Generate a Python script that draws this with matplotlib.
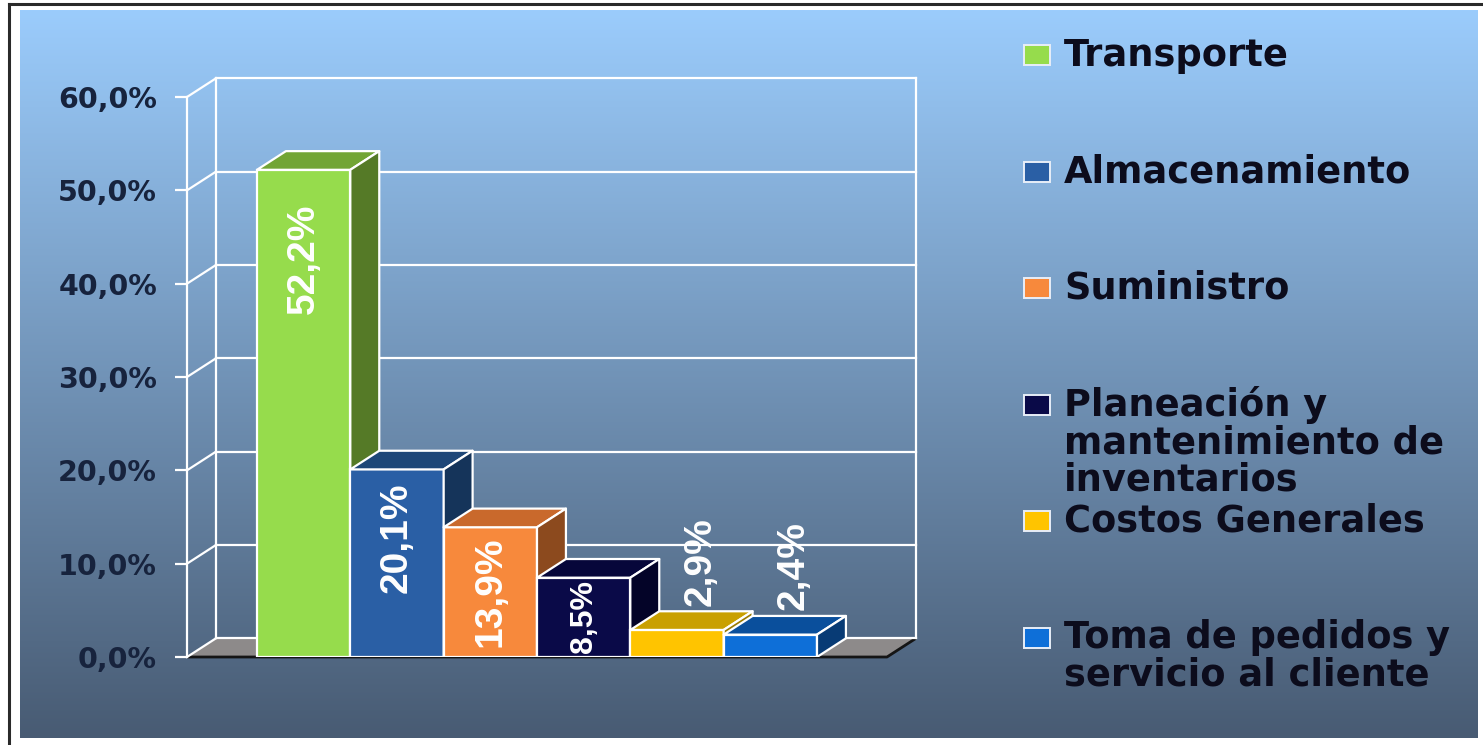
import numpy as np
import matplotlib
matplotlib.use('Agg')
import matplotlib.pyplot as plt
from matplotlib.patches import Polygon, Rectangle

# data
categories = ['Transporte', 'Almacenamiento', 'Suministro',
              'Planeación y\nmantenimiento de\ninventarios',
              'Costos Generales', 'Toma de pedidos y\nservicio al cliente']
values = [52.2, 20.1, 13.9, 8.5, 2.9, 2.4]
value_labels = ['52,2%', '20,1%', '13,9%', '8,5%', '2,9%', '2,4%']
yticks = [0, 10, 20, 30, 40, 50, 60]
ytick_labels = ['0,0%', '10,0%', '20,0%', '30,0%', '40,0%', '50,0%', '60,0%']

front_colors = ['#96dc4c', '#2a5fa5', '#f7893c', '#0a0a48', '#ffc400', '#0e6fd8']
top_colors = ['#72a535', '#1e4778', '#c9692c', '#07073a', '#c9a000', '#0a4f9c']
side_colors = ['#557a27', '#15345a', '#8c4a1e', '#040428', '#9a7a00', '#083b75']

W, H = 1483, 745
DX, DY = 0.31, 2.0      # depth offset of the 3d look, in data units
GAP = 0.75              # empty space left/right of the bars
XMAX = GAP * 2 + len(values)

fig = plt.figure(figsize=(W / 100, H / 100), dpi=100)
fig.patch.set_facecolor('white')


def fx(px):
    return px / W


def fy(py):
    return 1 - py / H


# background panel with vertical gradient
bg = fig.add_axes([0, 0, 1, 1])
top_c = np.array([155, 204, 252]) / 255
bot_c = np.array([72, 91, 115]) / 255
t = np.linspace(0, 1, 256)[:, None]
img = top_c * (1 - t) + bot_c * t
bg.imshow(img[:, None, :], extent=(20, 1478, 738, 10), aspect='auto')
bg.plot([9, W], [4, 4], color='#2a2a2a', lw=2.2)
bg.plot([9, 9], [4, H], color='#2a2a2a', lw=2.2)
bg.set_xlim(0, W)
bg.set_ylim(H, 0)
bg.axis('off')

ax = fig.add_axes([fx(187), fy(657), 700 / W, 560 / H])
ax.set_xlim(0, XMAX)
ax.set_ylim(0, 60)
ax.patch.set_alpha(0)
for s in ['top', 'right', 'bottom']:
    ax.spines[s].set_visible(False)
ax.spines['left'].set_color('white')
ax.spines['left'].set_linewidth(1.6)

# floor
floor = Polygon([(0, 0), (XMAX, 0), (XMAX + DX, DY), (DX, DY)], closed=True,
                facecolor='#8d8a8a', edgecolor='none', zorder=1, clip_on=False)
ax.add_patch(floor)
ax.plot([0, XMAX, XMAX + DX], [0, 0, DY], color='#151515', lw=2, zorder=1.2,
        clip_on=False, solid_capstyle='butt')

# back wall and left wall lines
wl = dict(color='white', lw=1.6, zorder=1.5, clip_on=False)
for v in yticks:
    ax.plot([DX, XMAX + DX], [v + DY, v + DY], **wl)
    ax.plot([0, DX], [v, v + DY], **wl)
ax.plot([DX, DX], [DY, 60 + DY], **wl)
ax.plot([XMAX + DX, XMAX + DX], [DY, 60 + DY], **wl)

# bars: front faces from ax.bar, top and side faces as polygons
lefts = [GAP + i for i in range(len(values))]
bars = ax.bar(lefts, values, width=1, align='edge', color=front_colors,
              edgecolor='white', linewidth=1.6)
for i, (b, l, v) in enumerate(zip(bars, lefts, values)):
    z = 3 + i * 0.1
    b.set_zorder(z)
    topf = Polygon([(l, v), (l + 1, v), (l + 1 + DX, v + DY), (l + DX, v + DY)],
                   closed=True, facecolor=top_colors[i], edgecolor='white',
                   lw=1.6, zorder=z + 0.01, joinstyle='round')
    side = Polygon([(l + 1, 0), (l + 1 + DX, DY), (l + 1 + DX, v + DY), (l + 1, v)],
                   closed=True, facecolor=side_colors[i], edgecolor='white',
                   lw=1.6, zorder=z + 0.02, joinstyle='round')
    ax.add_patch(topf)
    ax.add_patch(side)
    lab = dict(rotation=90, ha='center', color='white', fontweight='bold',
               family='Liberation Sans', zorder=10)
    if v >= 10:
        ax.text(l + 0.5, v * 0.93, value_labels[i], va='top', fontsize=28, **lab)
    elif v > 5:
        ax.text(l + 0.5, v - 0.2, value_labels[i], va='top', fontsize=23, **lab)
    else:
        ax.text(l + 0.5 + DX * 0.8, v + DY + 0.6, value_labels[i], va='bottom',
                fontsize=28, **lab)

ax.set_xticks([])
ax.set_yticks(yticks, ytick_labels)
ax.tick_params(axis='y', length=8.6, width=1.6, color='white',
               labelcolor='#17233d', labelsize=20.5, pad=13)
for lbl in ax.get_yticklabels():
    lbl.set_fontweight('bold')

# legend, drawn by hand so the entries keep the fixed slots of the original
base0, step = 65, 116.5
for i, name in enumerate(categories):
    base = base0 + i * step
    fig.patches.append(Rectangle((fx(1024), fy(base)), 26 / W, 20 / H,
                                 transform=fig.transFigure, facecolor=front_colors[i],
                                 edgecolor='#e8eef8', lw=1.4))
    fig.text(fx(1064), fy(base - 28), name, ha='left', va='top', color='#0c0c1c',
             fontsize=26.5, fontweight='bold', linespacing=1.0)

fig.savefig('out.png', dpi=100)
